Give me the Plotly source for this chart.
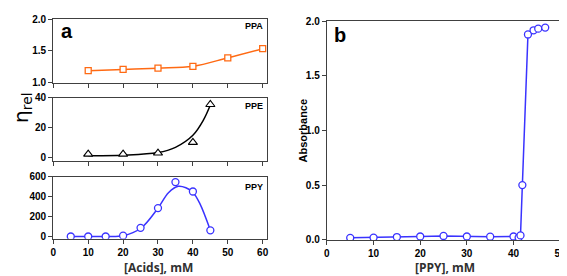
import plotly.graph_objects as go

# ---- data ----
ppa_x = [10, 20, 30, 40, 50, 60]
ppa_y = [1.18, 1.20, 1.22, 1.25, 1.385, 1.53]

ppe_x = [10, 20, 30, 40, 45]
ppe_y = [2.5, 2.5, 3.2, 10.3, 35.4]
ppe_fit_x = [10, 20, 30, 35, 40, 43, 45]
ppe_fit_y = [1.5, 1.8, 3.5, 7, 15, 25, 35]

ppy_x = [5, 10, 15, 20, 25, 30, 35, 40, 45]
ppy_y = [0, 0, 0, 8, 87, 285, 546, 452, 62]
ppy_fit_x = [5, 10, 15, 20, 25, 30, 33, 35.8, 38, 40, 42, 45]
ppy_fit_y = [0, 0, 0, 8, 80, 285, 440, 504, 490, 445, 330, 62]

abs_x = [5, 10, 15, 20, 25, 30, 35, 40, 41.1, 41.5, 41.9, 43.1, 44.3, 45.3, 46.8]
abs_y = [0.018, 0.02, 0.025, 0.03, 0.035, 0.03, 0.028, 0.03, 0.02, 0.04, 0.5, 1.877, 1.915, 1.93, 1.94]

acid_ticks = [0, 10, 20, 30, 40, 50, 60]
ppy_ticks = [0, 10, 20, 30, 40, 50]

ORANGE = "#FF6A13"
BLUE = "#3A33FF"
AXC = "#404040"
W, H = 567, 276

fig = go.Figure()

# PPA
fig.add_trace(go.Scatter(x=ppa_x, y=ppa_y, mode="lines+markers", xaxis="x", yaxis="y",
                         line=dict(color=ORANGE, width=1.5, shape="spline"),
                         marker=dict(symbol="square", size=6, color="white",
                                     line=dict(color=ORANGE, width=1.3))))
# PPE
fig.add_trace(go.Scatter(x=ppe_fit_x, y=ppe_fit_y, mode="lines", xaxis="x2", yaxis="y2",
                         line=dict(color="black", width=1.5, shape="spline")))
fig.add_trace(go.Scatter(x=ppe_x, y=ppe_y, mode="markers", xaxis="x2", yaxis="y2",
                         marker=dict(symbol="triangle-up", size=8, color="white",
                                     line=dict(color="black", width=1.1))))
# PPY
fig.add_trace(go.Scatter(x=ppy_fit_x, y=ppy_fit_y, mode="lines", xaxis="x3", yaxis="y3",
                         line=dict(color=BLUE, width=1.5, shape="spline")))
fig.add_trace(go.Scatter(x=ppy_x, y=ppy_y, mode="markers", xaxis="x3", yaxis="y3",
                         marker=dict(symbol="circle", size=7, color="white",
                                     line=dict(color=BLUE, width=1.3))))
# Panel b
fig.add_trace(go.Scatter(x=abs_x, y=abs_y, mode="lines+markers", xaxis="x4", yaxis="y4",
                         line=dict(color=BLUE, width=1.5),
                         marker=dict(symbol="circle", size=7, color="white",
                                     line=dict(color=BLUE, width=1.3))))

tickfont = dict(family="Liberation Sans", size=10, color="black", weight="bold")

def xax(domain, anchor, rng, ticks, labels):
    return dict(domain=domain, anchor=anchor, range=rng, tickvals=ticks,
                showticklabels=labels, ticks="outside", ticklen=4, tickwidth=1,
                tickcolor=AXC, showline=True, linecolor=AXC, linewidth=1.3, mirror=True,
                showgrid=False, zeroline=False, tickfont=tickfont, ticklabeloverflow="allow")

def yax(domain, anchor, rng, ticks, tlabels=None):
    d = dict(domain=domain, anchor=anchor, range=rng, tickvals=ticks,
             ticks="outside", ticklen=4, tickwidth=1, tickcolor=AXC,
             showline=True, linecolor=AXC, linewidth=1.3, mirror=True,
             showgrid=False, zeroline=False, tickfont=tickfont)
    if tlabels is not None:
        d["ticktext"] = tlabels
    return d

xa = [43 / W, 260 / W]
xb = [321 / W, 558 / W]

fig.update_layout(
    width=W, height=H, margin=dict(l=0, r=0, t=0, b=0),
    paper_bgcolor="white", plot_bgcolor="white", showlegend=False,
    xaxis=xax(xa, "y", [0, 61.2], acid_ticks, False),
    yaxis=yax([1 - 71.5 / H, 1 - 5.3 / H], "x", [0.99, 2.0], [1.0, 1.5, 2.0], ["1.0", "1.5", "2.0"]),
    xaxis2=xax(xa, "y2", [0, 61.2], acid_ticks, False),
    yaxis2=yax([1 - 153 / H, 1 - 87 / H], "x2", [-2, 40], [0, 20, 40]),
    xaxis3=xax(xa, "y3", [0, 61.2], acid_ticks, True),
    yaxis3=yax([1 - 234 / H, 1 - 169.5 / H], "x3", [-22, 600], [0, 200, 400, 600]),
    xaxis4=xax(xb, "y4", [0, 50], ppy_ticks, True),
    yaxis4=yax([1 - 235.5 / H, 1 - 7.3 / H], "x4", [-0.003, 2.0], [0.0, 0.5, 1.0, 1.5, 2.0],
               ["0.0", "0.5", "1.0", "1.5", "2.0"]),
)

def txt(x, y, s, size, weight="bold", family="Liberation Sans", color="black", angle=0, xanchor="center"):
    fig.add_annotation(x=x / W, y=1 - y / H, xref="paper", yref="paper", text=s,
                       showarrow=False, textangle=angle, xanchor=xanchor, yanchor="middle",
                       borderpad=0, font=dict(family=family, size=size, color=color, weight=weight))

txt(57, 18, "a", 20)
txt(327, 22, "b", 20, xanchor="left")
txt(257, 13, "PPA", 9, xanchor="right")
txt(257, 96, "PPE", 9, xanchor="right")
txt(257, 180, "PPY", 9, xanchor="right")
txt(150, 264, "[Acids], mM", 12, weight="bold", family="Open Sans", color="#303030")
txt(441, 264, "[PPY], mM", 12, weight="bold", family="Open Sans", color="#303030")
txt(297, 121, "Absorbance", 11, angle=-90)
txt(11, 97, "η<sub>rel</sub>", 20, weight="normal", family="DejaVu Sans", angle=-90)

fig.write_html("out.html")
